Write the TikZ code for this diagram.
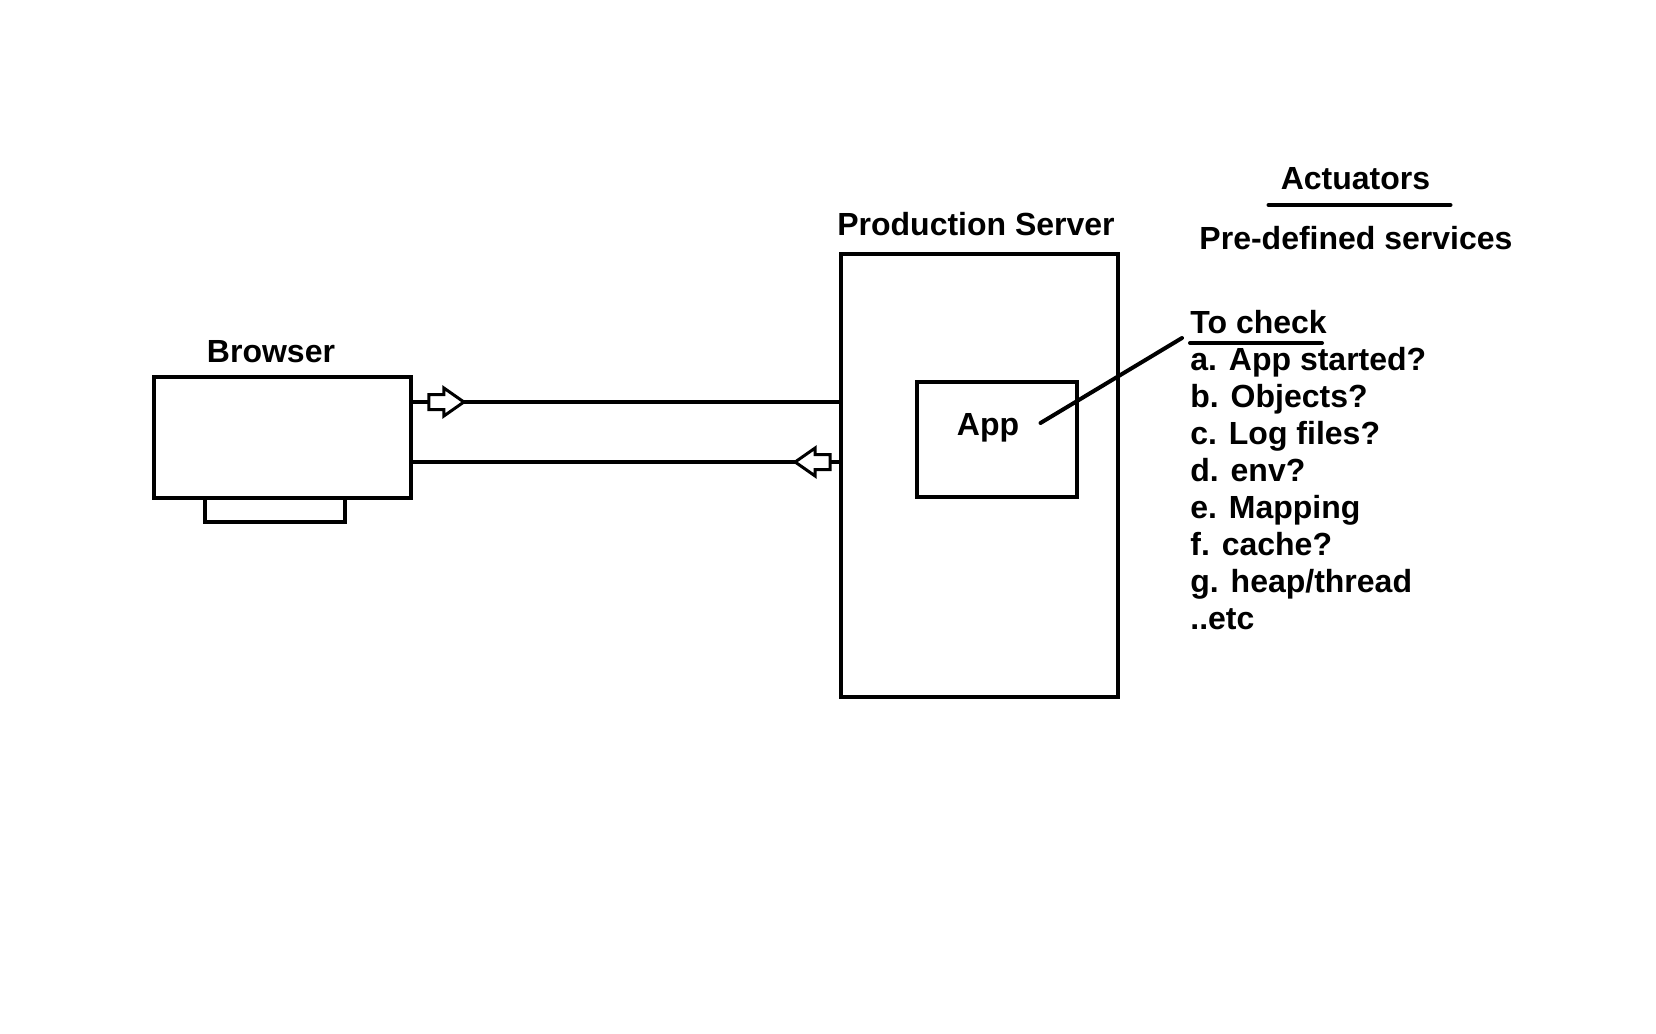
\documentclass[tikz,border=0pt]{standalone}
\usepackage{fontspec}
\setmainfont{Liberation Sans}
\usetikzlibrary{shapes.arrows,calc}
\tikzset{%
  box/.style    = {shape=rectangle, draw, line width=2pt, inner sep=0pt},%
  title/.style  = {anchor=base, inner sep=0pt,%
                   font=\fontsize{16}{18}\selectfont\bfseries},%
  item/.style   = {title, anchor=base west},%
  wire/.style   = {line width=2pt},%
  hollow/.style = {single arrow, draw, fill=white, line width=1.5pt,%
                   inner xsep=0pt, inner ysep=3pt, minimum height=17.5pt,%
                   minimum width=0pt, single arrow head extend=3.25pt,%
                   single arrow tip angle=70}%
}

\begin{document}
\begin{tikzpicture}[x=0.5pt, y=-0.5pt]
	\useasboundingbox (0,0) rectangle (1656,1034);
	% client side
	\node[box, minimum width=128.5pt, minimum height=60.5pt] (browser) at (282.5,437.5) {};
	\node[box, minimum width=70pt, minimum height=12pt] (stand) at (275,510) {};
	\node[title] (browsername) at (271,362) {Browser};
	% server side
	\node[box, minimum width=138.5pt, minimum height=221.5pt] (server) at (979.5,475.5) {};
	\node[title] (servername) at (976,235) {Production Server};
	\node[box, minimum width=80pt, minimum height=57.5pt] (app) at (997,439.5) {};
	\node[title] (appname) at (988,435) {App};
	% request and response
	\coordinate (req) at ($(browser.east)+(0,-35.5)$);
	\coordinate (resp) at ($(browser.east)+(0,24.5)$);
	\draw[wire] (req) -- (req -| server.west);
	\draw[wire] (resp -| server.west) -- (resp);
	\node[hollow] (reqarrow) at ($(req)+(28,0)$) {};
	\node[hollow, shape border rotate=180] (resparrow) at ($(resp -| server.west)+(-21,0)$) {};
	% actuators
	\node[title] (actuators) at (1355.5,189) {Actuators};
	\draw[wire, line cap=round] ($(actuators.base)+(-87,16)$) -- ($(actuators.base)+(95,16)$);
	\node[title] (predefined) at (1356,249) {Pre-defined services};
	\node[item] (tocheck) at (1190,333) {To check};
	\draw[wire, line cap=round] ($(tocheck.base west)+(0,10)$) -- ($(tocheck.base west)+(132,10)$);
	\foreach \txt [count=\i] in {a. App started?, b. Objects?, c. Log files?, d. env?,%
	                             e. Mapping, f. cache?, g. heap/thread, {..etc}}
		\node[item] (check\i) at (1190,333+37*\i) {\txt};
	\draw[wire, line cap=round] ($(appname.base east)+(21,-12)$) -- ($(tocheck.base west)+(-8,5)$);
\end{tikzpicture}
\end{document}
